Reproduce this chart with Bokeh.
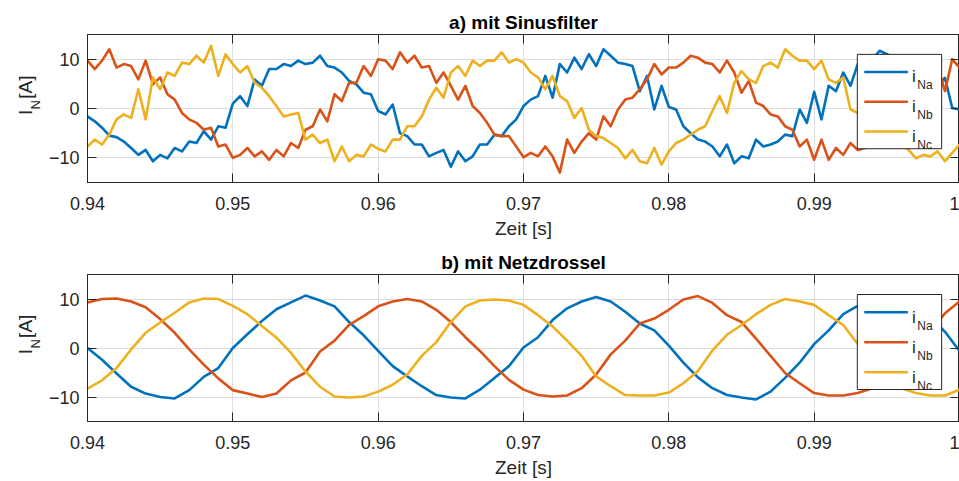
import numpy as np
from bokeh.plotting import figure
from bokeh.layouts import column, row
from bokeh.models import Range1d, FixedTicker, LinearAxis, CustomJSTickFormatter
from bokeh.core.properties import value
from bokeh.embed import file_html
from bokeh.resources import INLINE

# ---------------- data ----------------
# a) mit Sinusfilter: samples every 0.5 ms from 0.94 s to 1.00 s
t_a = np.round(0.94 + 0.0005 * np.arange(121), 4)
iNa_a = [-1.6, -2.6, -3.9, -5.5, -5.8, -6.7, -8.0, -9.4, -8.4, -10.7, -9.4, -10.1, -8.0, -8.7, -6.7, -7.0, -4.6, -6.3, -3.6, -3.9, 1.0,
         2.5, 0.5, 5.9, 4.6, 8.0, 8.0, 9.0, 8.6, 9.7, 9.0, 9.3, 10.7, 8.6, 8.3, 7.3, 5.6, 4.9, 3.2, 2.9, -0.5,
         -1.2, 0.8, -5.0, -5.6, -7.3, -7.3, -9.7, -9.0, -8.4, -11.8, -8.7, -10.7, -9.7, -7.3, -7.3, -5.3, -5.6, -3.6, -2.2, 0.5,
         1.8, 2.5, 6.6, 2.2, 9.0, 7.3, 10.3, 8.0, 11.0, 8.6, 12.0, 10.7, 9.3, 9.0, 8.6, 3.5, 6.6, -0.2, 4.6, 0.3,
         -0.2, -3.6, -5.0, -6.3, -6.7, -7.7, -9.7, -7.3, -11.1, -9.7, -10.1, -6.3, -7.7, -7.3, -6.7, -5.3, -5.6, -0.2, -2.9, 3.4,
         -2.2, 4.6, 3.5, 7.3, 4.6, 9.0, 9.3, 10.0, 11.7, 11.0, 10.3, 9.3, 8.6, 8.0, 7.3, 5.9, 4.6, 6.2, 0.1, -0.2]
iNb_a = [9.7, 8.0, 9.7, 12.0, 8.3, 9.0, 8.6, 5.9, 9.7, 4.9, 6.3, 2.9, 1.8, -0.9, -2.2, -2.9, -4.3, -3.9, -7.7, -7.3, -10.0,
         -9.4, -8.0, -9.7, -8.7, -10.4, -8.4, -9.7, -7.0, -8.0, -4.3, -3.6, -0.2, -2.6, 2.9, 1.5, 5.2, 5.2, 8.6, 6.6, 10.0,
         9.7, 8.0, 11.4, 9.3, 10.7, 8.3, 8.6, 5.2, 7.3, 4.6, 1.8, 4.6, 0.5, -0.9, -2.9, -5.3, -5.6, -5.6, -7.7, -9.9,
         -9.0, -9.7, -7.7, -9.7, -13.0, -6.3, -9.0, -6.7, -5.0, -6.3, -1.6, -3.6, -0.2, 1.8, 2.2, 3.9, 5.9, 9.0, 6.9, 8.3,
         8.3, 9.3, 10.7, 10.3, 9.3, 9.0, 7.3, 9.7, 7.3, 3.2, 5.6, 1.2, 0.5, -1.2, -1.6, -3.6, -4.3, -7.7, -6.3, -10.4,
         -6.3, -10.4, -8.0, -9.4, -7.0, -8.4, -8.0, -7.3, -6.5, -4.3, -2.2, -0.2, 1.8, 3.9, 5.9, 7.3, 8.6, 3.5, 10.0, 8.3]
iNc_a = [-7.7, -6.3, -7.3, -5.3, -2.2, -1.2, -1.9, 3.9, -2.2, 6.3, 3.9, 7.3, 6.6, 9.3, 9.0, 10.7, 9.3, 12.7, 6.6, 11.0, 9.0,
         7.3, 8.6, 5.2, 4.2, 2.5, 0.5, -1.6, -1.2, -0.9, -6.3, -5.3, -7.0, -6.3, -10.7, -7.7, -10.7, -9.4, -9.7, -7.3, -8.2,
         -8.7, -6.3, -6.3, -3.6, -3.6, -1.6, 1.8, 4.2, 2.2, 7.3, 8.6, 6.6, 9.7, 8.6, 9.7, 9.7, 11.4, 9.3, 10.0, 9.3,
         7.3, 6.3, 3.9, 6.6, 2.5, 1.5, -1.9, 0.1, -4.3, -5.6, -6.0, -7.0, -8.0, -10.1, -8.4, -10.7, -11.1, -8.0, -11.4, -8.7,
         -7.0, -6.3, -5.3, -4.3, -3.6, -0.5, 2.5, -0.9, 5.2, 7.6, 5.9, 5.2, 8.6, 9.3, 8.3, 12.0, 10.7, 9.7, 9.7, 8.0,
         9.7, 5.9, 5.2, 6.3, -0.2, -0.9, -1.6, -3.3, -4.3, -6.3, -7.0, -7.5, -8.4, -10.1, -9.4, -9.7, -8.7, -10.7, -9.0, -7.3]

# b) mit Netzdrossel: samples every 1 ms from 0.94 s to 1.00 s
t_b = np.round(0.94 + 0.001 * np.arange(61), 3)
iNa_b = [0.0, -2.4, -5.2, -7.9, -9.3, -10.0, -10.3, -8.6, -5.9, -4.1, 0.0,
         2.8, 5.5, 7.9, 9.3, 10.7, 9.7,
         8.5, 5.3, 2.6, -0.6, -3.7, -5.8, -7.8, -9.6, -10.1, -10.3, -8.5, -6.1, -3.7, 0.1, 2.2, 5.7, 8.1, 9.5, 10.4, 9.5, 7.4, 5.0,
         3.6, 0.5, -3.0, -6.0, -8.2, -9.6, -10.1, -10.5, -8.9, -6.1, -3.0, 0.8, 3.6, 6.9, 8.6, 9.5, 9.9, 9.2, 8.1, 6.4, 3.3, -0.6]
iNb_b = [9.3, 10.0, 10.1, 9.5, 8.3, 5.9, 3.1, -0.3, -3.4, -6.2, -8.6,
         -9.3, -10.0, -9.3, -6.6, -5.0, -0.7,
         1.5, 4.7, 6.5, 8.5, 9.5, 10.0, 9.5, 7.8, 5.3, 2.2, -0.6, -3.7, -6.5, -8.5, -9.6, -9.9, -9.7, -8.2, -5.4, -1.3, 1.5, 5.0,
         6.0, 7.8, 9.9, 10.6, 9.2, 6.7, 5.3, 1.9, -1.6, -5.1, -7.2, -9.2, -9.7, -9.7, -9.2, -8.2, -6.1, -3.3, 0.1, 3.3, 7.1, 9.5]
iNc_b = [-8.3, -6.6, -4.1, -0.3, 3.1, 5.2, 7.2, 9.3, 10.1, 10.0, 8.6,
         6.9, 4.5, 2.1, -1.0, -4.8, -7.9,
         -9.9, -10.1, -9.9, -8.9, -7.5, -5.4, -1.6, 1.2, 5.3, 8.5, 9.7, 9.9, 9.7, 8.8, 6.7, 4.4, 1.5, -1.6, -5.8, -7.8, -9.6, -9.7,
         -9.7, -9.1, -7.2, -4.7, -0.5, 2.7, 4.7, 6.9, 8.8, 10.0, 9.5, 8.8, 6.7, 4.7, 0.8, -1.9, -5.4, -8.2, -9.2, -9.7, -9.7, -8.5]

x_ticks = [0.94, 0.95, 0.96, 0.97, 0.98, 0.99, 1.0]
y_ticks = [-10, 0, 10]
series_names = [("i", "Na"), ("i", "Nb"), ("i", "Nc")]
titles = ["a) mit Sinusfilter", "b) mit Netzdrossel"]
x_label = "Zeit [s]"
y_label = ("I", "N", "[A]")

# ---------------- style ----------------
COLORS = ["#0072BD", "#D95319", "#EDB120"]
FONT = "Liberation Sans"
TXT = "#262626"
X0, X1, Y0, Y1 = 0.94, 1.0, -15, 15
LW = 45            # width of the strip holding the y label
FL = 80            # frame left, px from window edge
FR = 959           # frame right
FW = FR - FL


def ylabel_strip(height, frame_top):
    s = figure(width=LW, height=height, x_range=Range1d(0, LW), y_range=Range1d(height, 0),
               min_border=0, x_axis_location=None, y_axis_location=None,
               output_backend="svg", toolbar_location=None)
    s.grid.visible = False
    s.outline_line_color = None
    s.background_fill_color = "white"
    s.border_fill_color = "white"
    # positions in px within the strip (y measured from the top)
    for txt, px, py, fs in ((y_label[0], 25, frame_top + 97, "19px"),
                            (y_label[1], 35, frame_top + 88, "13px"),
                            (y_label[2], 25, frame_top + 70.5, "19px")):
        s.text(x=[px], y=[py], text=[txt], angle=np.pi / 2, text_font=value(FONT),
               text_font_size=fs, text_color=TXT, text_align="left", text_baseline="alphabetic")
    return s


def make(title, t, ys, height, top_b, bot_b):
    frame_h = height - top_b - bot_b
    p = figure(width=FR - LW, height=height,
               min_border_left=FL - LW, min_border_right=0,
               min_border_top=top_b, min_border_bottom=bot_b,
               x_range=Range1d(X0, X1), y_range=Range1d(Y0, Y1),
               output_backend="svg", toolbar_location=None, title=title)
    p.background_fill_color = "white"
    p.border_fill_color = "white"
    p.outline_line_color = TXT
    p.outline_line_width = 1

    p.title.text_font = FONT
    p.title.text_font_size = "19px"
    p.title.text_font_style = "bold"
    p.title.text_color = "black"
    p.title.align = "center"
    p.title.standoff = 3

    fmt = CustomJSTickFormatter(code="return Math.abs(tick - 1) < 1e-9 ? '1' : tick.toFixed(2);")
    xa = p.xaxis[0]
    xa.ticker = FixedTicker(ticks=x_ticks)
    xa.formatter = fmt
    xa.axis_label = x_label
    ya = p.yaxis[0]
    ya.ticker = FixedTicker(ticks=y_ticks)
    for ax in (xa, ya):
        ax.major_tick_in = 9
        ax.major_tick_out = 0
        ax.minor_tick_line_color = None
        ax.axis_line_color = TXT
        ax.major_tick_line_color = TXT
        ax.major_label_text_font = FONT
        ax.major_label_text_font_size = "18px"
        ax.major_label_text_color = TXT
        ax.axis_label_text_font = FONT
        ax.axis_label_text_font_size = "19px"
        ax.axis_label_text_font_style = "normal"
        ax.axis_label_text_color = TXT
    xa.major_label_standoff = 14
    xa.axis_label_standoff = 5
    ya.major_label_standoff = 8

    for loc, tk in (("above", x_ticks), ("right", y_ticks)):
        ax2 = LinearAxis(ticker=FixedTicker(ticks=tk), major_tick_in=9, major_tick_out=0,
                         minor_tick_line_color=None, axis_line_color=TXT, major_tick_line_color=TXT,
                         major_label_text_font_size="0px", major_label_text_color=None,
                         major_label_standoff=0, axis_label=None)
        p.add_layout(ax2, loc)

    p.xgrid.ticker = FixedTicker(ticks=x_ticks)
    p.ygrid.ticker = FixedTicker(ticks=y_ticks)
    p.xgrid.grid_line_color = "#dedede"
    p.ygrid.grid_line_color = "#dedede"

    for y, c in zip(ys, COLORS):
        p.line(t, y, line_color=c, line_width=2.6, line_join="round")

    # helpers: pixel position (x from window edge, y from frame top) -> data
    def px2x(px):
        return X0 + (px - FL) / FW * (X1 - X0)

    def py2y(rel):
        return Y1 - rel / frame_h * (Y1 - Y0)

    # legend (drawn as glyphs so it sits above the data lines)
    p.quad(left=[px2x(856)], right=[px2x(941)], top=[py2y(20)], bottom=[py2y(115)],
           fill_color="white", line_color=TXT, line_width=1)
    for i, ((a, sub), c) in enumerate(zip(series_names, COLORS)):
        yl = 37.7 + 30 * i
        p.line([px2x(863), px2x(907)], [py2y(yl), py2y(yl)], line_color=c, line_width=2.6)
        p.text(x=[px2x(911)], y=[py2y(yl + 5)], text=[a], text_font=value(FONT),
               text_font_size="17px", text_color=TXT, text_align="left", text_baseline="alphabetic")
        p.text(x=[px2x(916.5)], y=[py2y(yl + 13.3)], text=[sub], text_font=value(FONT),
               text_font_size="12px", text_color=TXT, text_align="left", text_baseline="alphabetic")
    return p


p1 = make(titles[0], t_a, [iNa_a, iNb_a, iNc_a], 241, 34, 58)
p2 = make(titles[1], t_b, [iNa_b, iNb_b, iNc_b], 240, 33, 60)
s1 = ylabel_strip(241, 34)
s2 = ylabel_strip(240, 33)

layout = column(row(s1, p1, spacing=0), row(s2, p2, spacing=0), spacing=0)
open("out.html", "w").write(file_html(layout, INLINE))
